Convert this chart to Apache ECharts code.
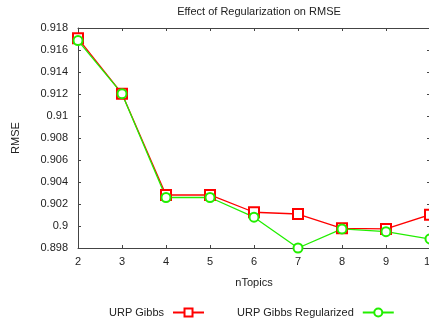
<!DOCTYPE html>
<html><head><meta charset="utf-8">
<script src="https://cdn.jsdelivr.net/npm/echarts@6/dist/echarts.min.js"></script>
<style>html,body{margin:0;padding:0;background:#fff}#c{width:429px;height:320px}</style>
</head><body><div id="c"></div>
<script>
const nTopics = [2, 3, 4, 5, 6, 7, 8, 9, 10];
const urpGibbs = [0.91706, 0.91203, 0.90282, 0.90282, 0.90125, 0.90109, 0.89979, 0.89973, 0.90103];
const urpGibbsReg = [0.91686, 0.91203, 0.90259, 0.90259, 0.90080, 0.89800, 0.89973, 0.89948, 0.89882];
const yTicks = ['0.898','0.9','0.902','0.904','0.906','0.908','0.91','0.912','0.914','0.916','0.918'];

const font = 'Liberation Sans, Arial, sans-serif';
const axisCol = '#444';
const chart = echarts.init(document.getElementById('c'), null, {renderer: 'canvas'});
const toPairs = (xs, ys) => xs.map((x, i) => [x, ys[i]]);
chart.setOption({
  animation: false,
  backgroundColor: '#fff',
  title: {text: 'Effect of Regularization on RMSE', left: 254, textAlign: 'center', top: 1,
    textStyle: {fontFamily: font, fontSize: 11, fontWeight: 'normal', color: '#222'}},
  grid: {left: 78, top: 28, width: 352, height: 220, show: false, containLabel: false, outerBoundsMode: 'none'},
  legend: [
    {data: ['URP Gibbs'], left: 104, top: 302, align: 'right', itemWidth: 31, itemHeight: 10, itemGap: 0,
      textStyle: {fontFamily: font, fontSize: 11, color: '#222', padding: [0, 4, 0, 0]}},
    {data: ['URP Gibbs Regularized'], left: 232, top: 302, align: 'right', itemWidth: 31, itemHeight: 10, itemGap: 0,
      textStyle: {fontFamily: font, fontSize: 11, color: '#222', padding: [0, 4, 0, 0]}}
  ],
  xAxis: [
    {type: 'value', min: 2, max: 10, interval: 1, name: 'nTopics', nameLocation: 'middle', nameGap: 29,
      nameTextStyle: {fontFamily: font, fontSize: 11, color: '#222'},
      axisLine: {show: true, lineStyle: {color: axisCol, width: 1}},
      axisTick: {show: true, inside: true, length: 3, lineStyle: {color: axisCol}},
      axisLabel: {fontFamily: font, fontSize: 11, color: '#222', margin: 8, formatter: v => String(v)},
      splitLine: {show: false}},
    {type: 'value', position: 'top', min: 2, max: 10, interval: 1,
      axisLine: {show: true, lineStyle: {color: axisCol, width: 1}},
      axisTick: {show: true, inside: true, length: 3, lineStyle: {color: axisCol}},
      axisLabel: {show: false}, splitLine: {show: false}}
  ],
  yAxis: [
    {type: 'value', min: 0.898, max: 0.918, interval: 0.002, name: 'RMSE', nameLocation: 'middle', nameGap: 57,
      nameTextStyle: {fontFamily: font, fontSize: 11, color: '#222'},
      axisLine: {show: true, lineStyle: {color: axisCol, width: 1}},
      axisTick: {show: true, inside: true, length: 3, lineStyle: {color: axisCol}},
      axisLabel: {fontFamily: font, fontSize: 11, color: '#222', margin: 10,
        formatter: v => { const i = Math.round((v - 0.898) / 0.002); return yTicks[i] !== undefined ? yTicks[i] : ''; }},
      splitLine: {show: false}},
    {type: 'value', position: 'right', min: 0.898, max: 0.918, interval: 0.002,
      axisLine: {show: true, lineStyle: {color: axisCol, width: 1}},
      axisTick: {show: true, inside: true, length: 3, lineStyle: {color: axisCol}},
      axisLabel: {show: false}, splitLine: {show: false}}
  ],
  series: [
    {name: 'URP Gibbs', type: 'line', data: toPairs(nTopics, urpGibbs), symbol: 'emptyRect', symbolSize: 10,
      lineStyle: {color: '#ff0000', width: 1.3}, itemStyle: {color: '#ff0000', borderColor: '#ff0000', borderWidth: 1}},
    {name: 'URP Gibbs Regularized', type: 'line', data: toPairs(nTopics, urpGibbsReg), symbol: 'emptyCircle', symbolSize: 9,
      lineStyle: {color: '#22ee00', width: 1.3}, itemStyle: {color: '#22ee00', borderColor: '#22ee00', borderWidth: 1.5}}
  ]
});
</script></body></html>
